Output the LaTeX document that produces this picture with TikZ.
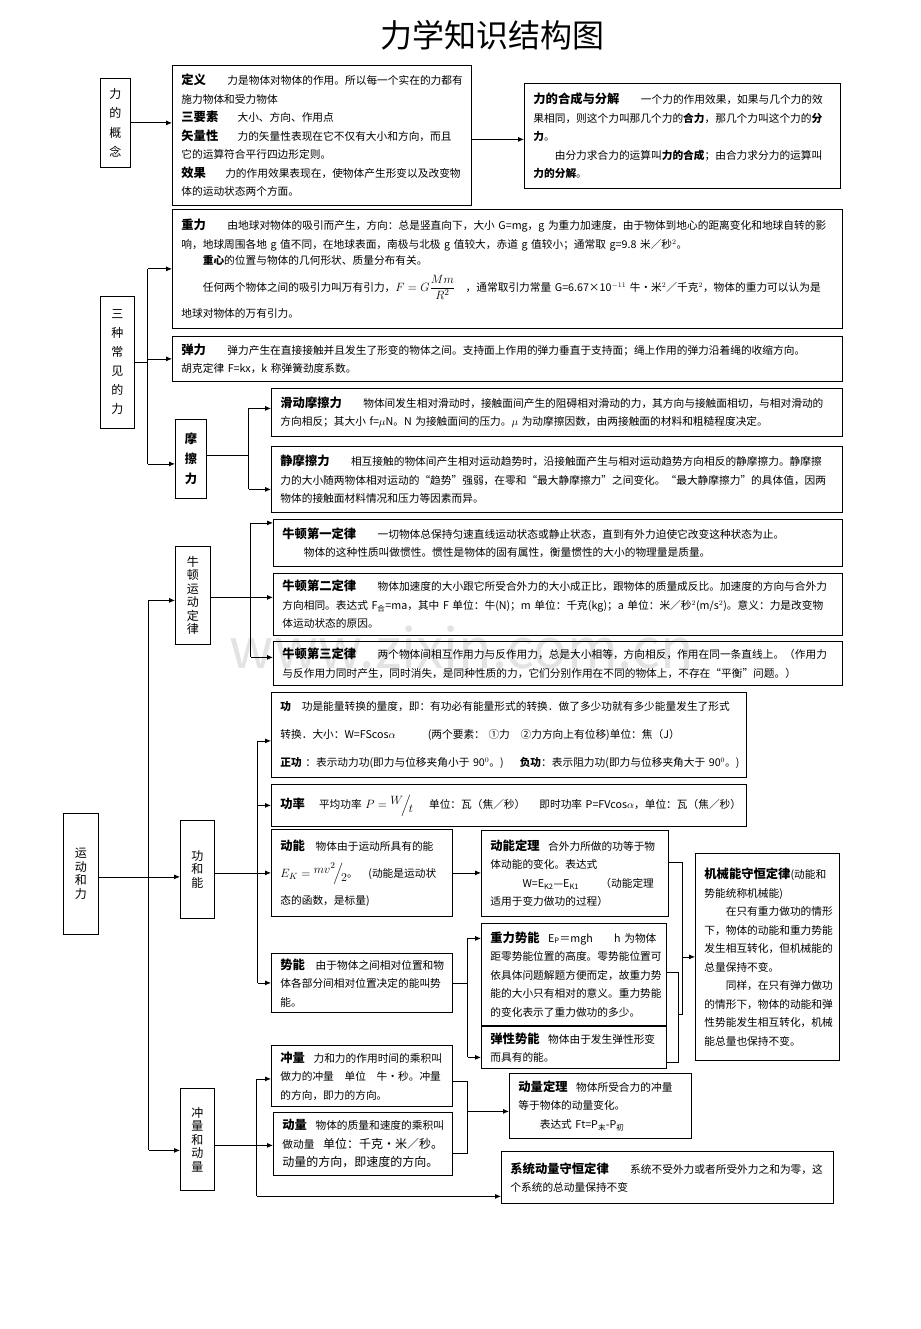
\documentclass[tikz,border=0pt]{standalone}
\usepackage{amsmath}
\usepackage{fontspec}
\setmainfont{Noto Sans CJK SC}
\usetikzlibrary{arrows.meta}

\relpenalty=10000
\binoppenalty=10000
\newcommand\bodyfont{\fontsize{10.7}{18.5}\selectfont}
\newcommand\hd[1]{{\fontsize{12.3}{18.5}\selectfont\bfseries #1}}
\newcommand\fml[1]{{\fontsize{13}{13}\selectfont #1}}
\newcommand\gap[1]{\nobreak\hspace{#1}\nobreak}

\tikzset{
  box/.style={draw, line width=0.8pt, anchor=north west, inner xsep=9pt,
    inner ysep=3pt, align=left, font=\bodyfont},
  vbox/.style={draw, line width=0.8pt, anchor=north west, inner sep=0pt,
    align=center, font=\fontsize{12}{13.5}\selectfont},
  conn/.style={line width=0.8pt},
  arr/.style={conn, -{Latex[length=6pt,width=5pt]}}
}

\begin{document}
\begin{tikzpicture}[x=1pt, y=-1pt]
\useasboundingbox (0,0) rectangle (920,1329);

\node[font=\fontsize{55}{55}\selectfont, text=black!11] (wm) at (462,648) {www.zixin.com.cn};
\node[font=\fontsize{32}{32}\selectfont] (title) at (492,35) {力学知识结构图};

% 力的概念
\node[vbox, minimum width=30pt, minimum height=89pt, font=\fontsize{12}{19.5}\selectfont] (gainian) at (100,78) {力\\的\\概\\念};
\node[box, minimum width=299pt, minimum height=140pt, text width=281pt] (dingyi) at (172,65) {%
\hd{定义}\gap{2em}力是物体对物体的作用。所以每一个实在的力都有\\
施力物体和受力物体\\
\hd{三要素}\gap{1.8em}大小、方向、作用点\\
\hd{矢量性}\gap{1.8em}力的矢量性表现在它不仅有大小和方向，而且\\
它的运算符合平行四边形定则。\\
\hd{效果}\gap{1.8em}力的作用效果表现在，使物体产生形变以及改变物\\
体的运动状态两个方面。};
\node[box, minimum width=316pt, minimum height=105pt, text width=298pt] (hecheng) at (524,83) {%
\hd{力的合成与分解}\gap{2em}一个力的作用效果，如果与几个力的效\\
果相同，则这个力叫那几个力的\textbf{合力}，那几个力叫这个力的\textbf{分}\\
\textbf{力}。\\
\hspace*{2em}由分力求合力的运算叫\textbf{力的合成}；由合力求分力的运算叫\\
\textbf{力的分解}。};

% 三种常见的力
\node[vbox, minimum width=34pt, minimum height=132pt, font=\fontsize{12}{19}\selectfont] (szcj) at (100,296) {三\\种\\常\\见\\的\\力};
\node[box, minimum width=670pt, minimum height=119pt, text width=652pt] (zhongli) at (172,209) {%
\hd{重力}\gap{2em}由地球对物体的吸引而产生，方向：总是竖直向下，大小~G=mg，g~为重力加速度，由于物体到地心的距离变化和地球自转的影\\
响，地球周围各地~g~值不同，在地球表面，南极与北极~g~值较大，赤道~g~值较小；通常取~g=9.8~米／秒$^2$。\\[-2pt]
\hspace*{2em}\textbf{重心}的位置与物体的几何形状、质量分布有关。\\[8pt]
\hspace*{2em}任何两个物体之间的吸引力叫万有引力，\fml{$F=G\dfrac{Mm}{R^2}$}\gap{1em}，通常取引力常量~G=6.67×10$^{-11}$~牛·米$^2$／千克$^2$，物体的重力可以认为是\\[8pt]
地球对物体的万有引力。};
\node[box, minimum width=670pt, minimum height=45pt, text width=652pt] (tanli) at (172,336) {%
\hd{弹力}\gap{2em}弹力产生在直接接触并且发生了形变的物体之间。支持面上作用的弹力垂直于支持面；绳上作用的弹力沿着绳的收缩方向。\\
胡克定律~F=kx，k~称弹簧劲度系数。};

% 摩擦力
\node[vbox, minimum width=31pt, minimum height=79pt, font=\fontsize{12.3}{20}\selectfont\bfseries] (mocali) at (175,419) {摩\\擦\\力};
\node[box, minimum width=571pt, minimum height=48pt, text width=553pt] (huadong) at (271,388) {%
\hd{滑动摩擦力}\gap{2em}物体间发生相对滑动时，接触面间产生的阻碍相对滑动的力，其方向与接触面相切，与相对滑动的\\
方向相反；其大小~f=$\mu$N。N~为接触面间的压力。$\mu$~为动摩擦因数，由两接触面的材料和粗糙程度决定。};
\node[box, minimum width=571pt, minimum height=66pt, text width=553pt] (jingmo) at (271,446) {%
\hd{静摩擦力}\gap{2em}相互接触的物体间产生相对运动趋势时，沿接触面产生与相对运动趋势方向相反的静摩擦力。静摩擦\\
力的大小随两物体相对运动的“趋势”强弱，在零和“最大静摩擦力”之间变化。“最大静摩擦力”的具体值，因两\\
物体的接触面材料情况和压力等因素而异。};

% 牛顿运动定律
\node[vbox, minimum width=35pt, minimum height=98pt] (niudun) at (175,546) {牛\\顿\\运\\动\\定\\律};
\node[box, minimum width=569pt, minimum height=47pt, text width=551pt] (niu1) at (273,519) {%
\hd{牛顿第一定律}\gap{2em}一切物体总保持匀速直线运动状态或静止状态，直到有外力迫使它改变这种状态为止。\\
\hspace*{2em}物体的这种性质叫做惯性。惯性是物体的固有属性，衡量惯性的大小的物理量是质量。};
\node[box, minimum width=569pt, minimum height=62pt, text width=551pt] (niu2) at (273,573) {%
\hd{牛顿第二定律}\gap{2em}物体加速度的大小跟它所受合外力的大小成正比，跟物体的质量成反比。加速度的方向与合外力\\
方向相同。表达式~F\textsubscript{合}=ma，其中~F~单位：牛(N)；m~单位：千克(kg)；a~单位：米／秒$^2$(m/s$^2$)。意义：力是改变物\\
体运动状态的原因。};
\node[box, minimum width=569pt, minimum height=44pt, text width=551pt] (niu3) at (273,641) {%
\hd{牛顿第三定律}\gap{2em}两个物体间相互作用力与反作用力，总是大小相等，方向相反，作用在同一条直线上。（作用力\\
与反作用力同时产生，同时消失，是同种性质的力，它们分别作用在不同的物体上，不存在“平衡”问题。）};

% 运动和力
\node[vbox, minimum width=35pt, minimum height=121pt] (ydhl) at (63,813) {运\\动\\和\\力};
\node[vbox, minimum width=34pt, minimum height=98pt] (gnn) at (180,820) {功\\和\\能};
\node[vbox, minimum width=34pt, minimum height=102pt] (cldl) at (180,1088) {冲\\量\\和\\动\\量};

% 功和能
\node[box, minimum width=475pt, minimum height=85pt, text width=457pt, font=\fontsize{10.7}{28}\selectfont] (gong) at (271,692) {%
\textbf{功}\gap{1em}功是能量转换的量度，即：有功必有能量形式的转换．做了多少功就有多少能量发生了形式\\
转换．大小：W=FScos$\alpha$\gap{3em}(两个要素：~①力\gap{1em}②力方向上有位移)单位：焦（J）\\
\textbf{正功}~：表示动力功(即力与位移夹角小于~90$^0$。)\gap{1.5em}\textbf{负功}：表示阻力功(即力与位移夹角大于~90$^0$。)};
\node[box, minimum width=475pt, minimum height=42pt, text width=457pt] (gonglv) at (271,784) {%
\hd{功率}\gap{14pt}平均功率~\fml{$P=\raisebox{4pt}{$W$}\!\Big/\!\raisebox{-4pt}{$t$}$}\gap{16pt}单位：瓦（焦／秒）\gap{14pt}即时功率~P=FVcos$\alpha$，单位：瓦（焦／秒）};
\node[box, minimum width=181pt, minimum height=87pt, text width=163pt, font=\fontsize{10.7}{27}\selectfont] (dongneng) at (271,829) {%
\hd{动能}\gap{1em}物体由于运动所具有的能\\
\fml{$E_K=\raisebox{4pt}{$mv^2$}\!\Big/\!\raisebox{-4pt}{$2$}$}。\gap{1em}(动能是运动状\\
态的函数，是标量)};
\node[box, minimum width=181pt, minimum height=59pt, text width=163pt] (shineng) at (271,953) {%
\hd{势能}\gap{1em}由于物体之间相对位置和物\\
体各部分间相对位置决定的能叫势\\
能。};
\node[box, minimum width=187pt, minimum height=86pt, text width=169pt] (dndl) at (481,830) {%
\hd{动能定理}\gap{0.8em}合外力所做的功等于物\\
体动能的变化。表达式\\
\hspace*{3em}W=E\textsubscript{K2}—E\textsubscript{K1}\gap{2em}（动能定理\\
适用于变力做功的过程）};
\node[box, minimum width=185pt, minimum height=102pt, text width=167pt] (zlsn) at (481,923) {%
\hd{重力势能}\gap{0.8em}E\textsubscript{P}＝mgh\gap{2em}h~为物体\\
距零势能位置的高度。零势能位置可\\
依具体问题解题方便而定，故重力势\\
能的大小只有相对的意义。重力势能\\
的变化表示了重力做功的多少。};
\node[box, minimum width=185pt, minimum height=42pt, text width=167pt] (txsn) at (481,1026) {%
\hd{弹性势能}\gap{0.8em}物体由于发生弹性形变\\
而具有的能。};
\node[box, minimum width=144pt, minimum height=207pt, text width=126pt] (jxn) at (695,853) {%
\hd{机械能守恒定律}(动能和\\
势能统称机械能)\\
\hspace*{2em}在只有重力做功的情形\\
下，物体的动能和重力势能\\
发生相互转化，但机械能的\\
总量保持不变。\\
\hspace*{2em}同样，在只有弹力做功\\
的情形下，物体的动能和弹\\
性势能发生相互转化，机械\\
能总量也保持不变。};

% 冲量和动量
\node[box, minimum width=181pt, minimum height=61pt, text width=163pt] (chongliang) at (271,1045) {%
\hd{冲量}\gap{0.8em}力和力的作用时间的乘积叫\\
做力的冲量\gap{1em}单位\gap{1em}牛·秒。冲量\\
的方向，即力的方向。};
\node[box, minimum width=179pt, minimum height=63pt, text width=161pt] (dongliang) at (273,1112) {%
\hd{动量}\gap{0.8em}物体的质量和速度的乘积叫\\
做动量\gap{0.8em}{\fontsize{12}{18.5}\selectfont 单位：千克·米／秒。}\\
{\fontsize{12}{18.5}\selectfont 动量的方向，即速度的方向。}};
\node[box, minimum width=182pt, minimum height=65pt, text width=164pt] (dldl) at (509,1073) {%
\hd{动量定理}\gap{0.8em}物体所受合力的冲量\\
等于物体的动量变化。\\
\hspace*{2em}表达式~Ft=P\textsubscript{末}-P\textsubscript{初}};
\node[box, minimum width=332pt, minimum height=52pt, text width=314pt] (xtdl) at (501,1151) {%
\hd{系统动量守恒定律}\gap{2em}系统不受外力或者所受外力之和为零，这\\
个系统的总动量保持不变};

% connectors: 力的概念
\draw[arr] (gainian) -- (gainian -| dingyi.west);
\coordinate (dy) at ([yshift=-4pt]dingyi.east);
\draw[arr] (dy) -- (dy -| hecheng.west);

% connectors: 三种常见的力
\draw[conn] (szcj.east) -- ++(13,0) coordinate (t1);
\coordinate (mc) at ([yshift=-5pt]mocali.west);
\draw[conn] (t1 |- zhongli.west) -- (t1 |- mc);
\draw[arr] (t1 |- zhongli.west) -- (zhongli.west);
\draw[arr] (t1 |- tanli.west) -- (tanli.west);
\draw[arr] (t1 |- mc) -- (mc);

% connectors: 摩擦力
\coordinate (mo) at ([yshift=4pt]mocali.east);
\draw[conn] (mo) -- ++(42,0) coordinate (t2);
\coordinate (hd) at ([yshift=4pt]huadong.west);
\coordinate (jm) at ([yshift=-10pt]jingmo.west);
\draw[conn] (t2 |- hd) -- (t2 |- jm);
\draw[arr] (t2 |- hd) -- (hd);
\draw[arr] (t2 |- jm) -- (jm);

% connectors: 牛顿运动定律
\coordinate (nd) at ([yshift=-2pt]niudun.east);
\draw[arr] (nd) -- (nd -| niu2.west);
\path (nd) ++(40,0) coordinate (t3);
\coordinate (n1) at ([yshift=20pt]niu1.west);
\coordinate (n3) at ([yshift=6pt]niu3.west);
\draw[conn] (t3 |- n1) -- (t3 |- n3);
\draw[arr] (t3 |- n1) -- (n1);
\draw[arr] (t3 |- n3) -- (n3);

% connectors: 运动和力
\coordinate (yd) at ([yshift=-3pt]ydhl.east);
\draw[arr] (yd) -- (yd -| gnn.west);
\path (yd) ++(50,0) coordinate (t4);
\coordinate (nt) at ([yshift=-5pt]niudun.west);
\coordinate (ct) at ([yshift=-11pt]cldl.west);
\draw[conn] (t4 |- nt) -- (t4 |- ct);
\draw[arr] (t4 |- nt) -- (nt);
\draw[arr] (t4 |- ct) -- (ct);

% connectors: 功和能
\draw[arr] (gnn.east |- dongneng.west) -- (dongneng.west);
\path (gnn.east) ++(43,0) coordinate (t5);
\coordinate (gw) at ([yshift=-6pt]gong.west);
\draw[conn] (t5 |- gw) -- (t5 |- shineng.west);
\draw[arr] (t5 |- gw) -- (gw);
\draw[arr] (t5 |- gonglv.west) -- (gonglv.west);
\draw[arr] (t5 |- shineng.west) -- (shineng.west);
\draw[arr] (dongneng.east) -- (dongneng.east -| dndl.west);

% connectors: 势能
\draw[conn] (shineng.east) -- ++(15,0) coordinate (t6);
\coordinate (zw) at ([yshift=36pt]zlsn.west);
\coordinate (tw) at ([yshift=-10pt]txsn.west);
\draw[conn] (t6 |- zw) -- (t6 |- tw);
\draw[arr] (t6 |- zw) -- (zw);
\draw[arr] (t6 |- tw) -- (tw);

% connectors: 机械能守恒
\coordinate (de) at ([yshift=11pt]dndl.east);
\coordinate (ze) at ([yshift=2pt]zlsn.east);
\coordinate (te) at ([yshift=-15pt]txsn.east);
\draw[conn] (ze) -- ++(12,0) coordinate (b1) -- (b1 |- te) -- (te);
\coordinate (m1) at ([yshift=-42pt]b1);
\path (de) ++(14,0) coordinate (t7);
\draw[conn] (de) -- (t7) -- (t7 |- m1) -- (m1);
\draw[arr] (t7 |- jxn.west) -- (jxn.west);

% connectors: 冲量和动量
\coordinate (cd) at ([yshift=-6pt]cldl.east);
\draw[arr] (cd) -- (cd -| dongliang.west);
\path (cd) ++(42,0) coordinate (t8);
\coordinate (cw) at ([yshift=-3pt]chongliang.west);
\coordinate (xw) at ([yshift=-19pt]xtdl.west);
\draw[conn] (t8 |- cw) -- (t8 |- xw);
\draw[arr] (t8 |- cw) -- (cw);
\draw[arr] (t8 |- xw) -- (xw);
\coordinate (ce) at ([yshift=-5pt]chongliang.east);
\coordinate (le) at ([yshift=-9pt]dongliang.east);
\draw[conn] (ce) -- ++(15,0) coordinate (b2) -- (b2 |- le) -- (le);
\coordinate (dw) at ([yshift=-5.5pt]dldl.west);
\draw[arr] (b2 |- dw) -- (dw);
\end{tikzpicture}
\end{document}
